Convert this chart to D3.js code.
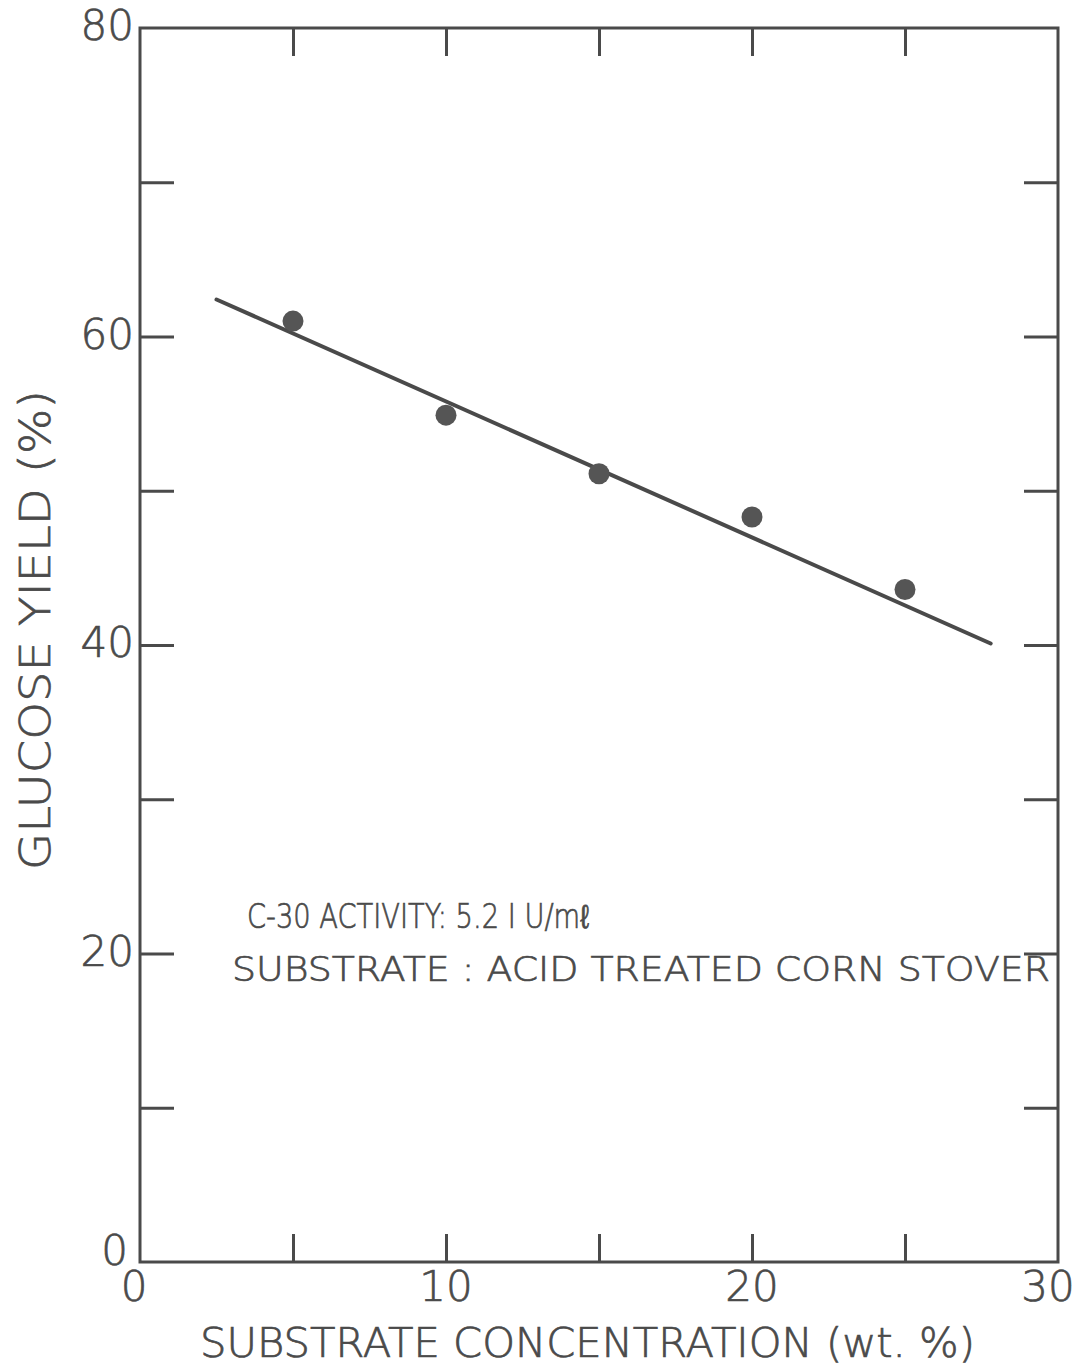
<!DOCTYPE html>
<html>
<head>
<meta charset="utf-8">
<script src="https://cdn.jsdelivr.net/npm/d3@7"></script>
<style>
  body{margin:0;background:#fff;}
  svg{display:block;}
</style>
</head>
<body>
<div id="chart"></div>
<script>
// data
var concentration = [5, 10, 15, 20, 25];
var glucoseYield = [61.0, 54.9, 51.1, 48.3, 43.6];
var fitX = [2.5, 27.8];
var fitY = [62.4, 40.1];
var xLabelTicks = [0, 10, 20, 30];
var xMarkTicks = [5, 10, 15, 20, 25];
var yLabelTicks = [0, 20, 40, 60, 80];
var yMarkTicks = [10, 20, 30, 40, 50, 60, 70];
var notes = ["C-30 ACTIVITY: 5.2 I U/m\u2113", "SUBSTRATE : ACID TREATED CORN STOVER"];

var drawchart = function(){
  var width = 1087, height = 1365;
  var padLeft = 140, padRight = 1058, padTop = 28, padBottom = 1262;
  var ink = "#4a4a4a";
  var font = "'DejaVu Sans', 'Liberation Sans', sans-serif";

  var svg = d3.select("#chart")
      .append("svg")
      .attr("width", width)
      .attr("height", height);

  var xScale = d3.scaleLinear().domain([0, 30]).range([padLeft, padRight]);
  var yScale = d3.scaleLinear().domain([0, 80]).range([padBottom, padTop]);

  // inward ticks on all four sides
  function tickStyle(g){
    g.select(".domain").remove();
    g.selectAll(".tick line").attr("stroke", ink).attr("stroke-width", 3);
  }
  svg.append("g")
      .attr("transform", "translate(0," + padBottom + ")")
      .call(d3.axisBottom(xScale).tickValues(xMarkTicks).tickSize(-28).tickFormat(""))
      .call(tickStyle);
  svg.append("g")
      .attr("transform", "translate(0," + padTop + ")")
      .call(d3.axisTop(xScale).tickValues(xMarkTicks).tickSize(-28).tickFormat(""))
      .call(tickStyle);
  svg.append("g")
      .attr("transform", "translate(" + padLeft + ",0)")
      .call(d3.axisLeft(yScale).tickValues(yMarkTicks).tickSize(-34).tickFormat(""))
      .call(tickStyle);
  svg.append("g")
      .attr("transform", "translate(" + padRight + ",0)")
      .call(d3.axisRight(yScale).tickValues(yMarkTicks).tickSize(-34).tickFormat(""))
      .call(tickStyle);

  // frame
  svg.append("rect")
      .attr("x", padLeft)
      .attr("y", padTop)
      .attr("width", padRight - padLeft)
      .attr("height", padBottom - padTop)
      .attr("fill", "none")
      .attr("stroke", ink)
      .attr("stroke-width", 3);

  function lettering(sel, size){
    sel.attr("font-family", font)
      .attr("font-weight", 200)
      .attr("font-size", size)
      .attr("fill", ink)
      .attr("stroke", ink)
      .attr("stroke-width", 0.7);
  }

  // tick labels
  svg.append("g")
      .selectAll("text")
      .data(xLabelTicks)
      .enter()
      .append("text")
      .attr("x", function(d){ return xScale(d) + (d == 30 ? -10 : (d == 0 ? -6 : 0)); })
      .attr("y", padBottom + 39)
      .attr("text-anchor", "middle")
      .call(lettering, 42)
      .text(function(d){ return d; });

  svg.append("g")
      .selectAll("text")
      .data(yLabelTicks)
      .enter()
      .append("text")
      .attr("x", function(d){ return d == 0 ? padLeft - 12 : padLeft - 6; })
      .attr("y", function(d){ return yScale(d) + (d == 0 ? 3 : 12); })
      .attr("text-anchor", "end")
      .call(lettering, 42)
      .text(function(d){ return d; });

  // axis titles
  svg.append("text")
      .attr("x", 200)
      .attr("y", 1357)
      .call(lettering, 40)
      .attr("textLength", 775)
      .attr("lengthAdjust", "spacingAndGlyphs")
      .text("SUBSTRATE  CONCENTRATION  (wt. %)");

  svg.append("text")
      .attr("transform", "translate(50,870) rotate(-90)")
      .call(lettering, 42)
      .attr("textLength", 480)
      .attr("lengthAdjust", "spacingAndGlyphs")
      .text("GLUCOSE  YIELD  (%)");

  // annotation
  svg.append("text")
      .attr("x", 247)
      .attr("y", 928)
      .call(lettering, 33)
      .attr("textLength", 342)
      .attr("lengthAdjust", "spacingAndGlyphs")
      .text(notes[0]);
  svg.append("text")
      .attr("x", 232)
      .attr("y", 981)
      .call(lettering, 34)
      .attr("textLength", 818)
      .attr("lengthAdjust", "spacingAndGlyphs")
      .text(notes[1]);

  // fitted line
  var fitLine = d3.line()
      .x(function(d){ return xScale(d[0]); })
      .y(function(d){ return yScale(d[1]); });
  svg.append("path")
      .datum(d3.zip(fitX, fitY))
      .attr("d", fitLine)
      .attr("fill", "none")
      .attr("stroke", ink)
      .attr("stroke-width", 4)
      .attr("stroke-linecap", "round");

  // data points
  svg.append("g")
      .selectAll("circle")
      .data(d3.zip(concentration, glucoseYield))
      .enter()
      .append("circle")
      .attr("cx", function(d){ return xScale(d[0]); })
      .attr("cy", function(d){ return yScale(d[1]); })
      .attr("r", 10.5)
      .attr("fill", "#555");
};
drawchart();
</script>
</body>
</html>
